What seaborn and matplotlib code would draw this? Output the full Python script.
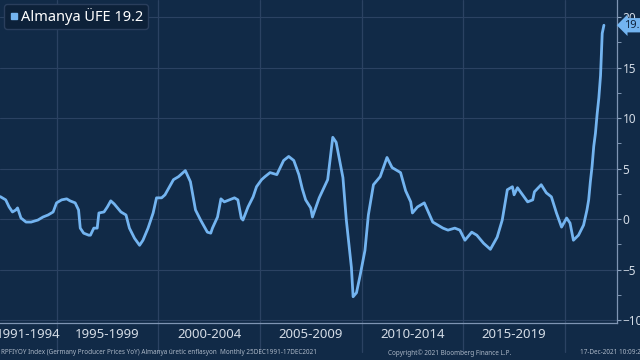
import pandas as pd
import matplotlib
matplotlib.use("Agg")
import matplotlib.pyplot as plt
import matplotlib.transforms as mtransforms
from matplotlib.lines import Line2D
import seaborn as sns

# Germany PPI YoY (%)
dates = ["1992-01", "1992-03", "1992-06", "1992-08", "1992-10", "1992-12", "1993-01",
         "1993-03", "1993-06", "1993-09", "1994-01", "1994-04", "1994-07", "1994-10",
         "1994-12", "1995-03", "1995-06", "1995-08", "1995-11", "1996-01", "1996-02",
         "1996-04", "1996-07", "1996-08", "1996-10", "1996-12", "1997-01", "1997-04",
         "1997-06", "1997-08", "1997-10", "1998-02", "1998-05", "1998-07", "1998-10",
         "1999-01", "1999-03", "1999-06", "1999-09", "1999-11", "2000-02", "2000-04",
         "2000-09", "2000-12", "2001-04", "2001-07", "2001-10", "2002-01", "2002-05",
         "2002-07", "2002-08", "2002-11", "2003-01", "2003-03", "2003-06", "2003-09",
         "2003-11", "2004-01", "2004-02", "2004-05", "2004-08", "2004-10", "2005-01",
         "2005-03", "2005-06", "2005-10", "2006-02", "2006-05", "2006-08", "2006-11",
         "2007-01", "2007-03", "2007-06", "2007-07", "2007-11", "2008-04", "2008-07",
         "2008-09", "2009-01", "2009-03", "2009-06", "2009-07", "2009-09", "2009-11",
         "2010-02", "2010-04", "2010-07", "2010-11", "2011-03", "2011-06", "2011-11",
         "2012-02", "2012-05", "2012-06", "2012-09", "2013-01", "2013-06", "2013-12",
         "2014-03", "2014-07", "2014-10", "2015-01", "2015-05", "2015-08", "2015-12",
         "2016-04", "2016-08", "2016-11", "2017-02", "2017-05", "2017-06", "2017-08",
         "2018-02", "2018-05", "2018-06", "2018-10", "2019-01", "2019-04", "2019-07",
         "2019-10", "2020-01", "2020-03", "2020-05", "2020-08", "2020-11", "2021-01",
         "2021-02", "2021-03", "2021-04", "2021-05", "2021-06", "2021-07", "2021-08",
         "2021-09", "2021-10", "2021-11"]
values = [2.3, 2.2, 1.9, 1.2, 0.7, 0.9, 1.1,
          0.1, -0.3, -0.3, -0.1, 0.2, 0.4, 0.7,
          1.6, 1.9, 2.0, 1.8, 1.6, 0.9, -0.9,
          -1.4, -1.6, -1.6, -0.9, -0.9, 0.6, 0.7,
          1.2, 1.8, 1.5, 0.7, 0.4, -0.9, -1.9,
          -2.6, -2.1, -0.9, 0.6, 2.1, 2.1, 2.4,
          3.9, 4.2, 4.8, 3.7, 0.9, -0.1, -1.3,
          -1.4, -0.9, 0.2, 2.0, 1.7, 1.9, 2.1,
          1.9, 0.1, -0.1, 1.2, 2.2, 3.2, 3.9,
          4.2, 4.6, 4.4, 5.8, 6.2, 5.8, 4.4,
          3.0, 1.9, 1.1, 0.2, 2.1, 3.9, 8.1,
          7.6, 4.1, -0.1, -4.8, -7.7, -7.3, -5.7,
          -3.1, 0.4, 3.4, 4.2, 6.1, 5.1, 4.6,
          2.8, 1.7, 0.6, 1.2, 1.6, -0.3, -0.9,
          -1.1, -0.9, -1.1, -2.1, -1.3, -1.6, -2.4,
          -3.0, -1.8, -0.1, 2.9, 3.2, 2.4, 3.1,
          1.7, 1.9, 2.7, 3.4, 2.6, 2.2, 0.6,
          -0.8, 0.1, -0.4, -2.1, -1.6, -0.6, 0.9,
          1.9, 3.7, 5.2, 7.2, 8.5, 10.4, 12.0,
          14.2, 18.4, 19.2]
period_labels = ["1991-1994", "1995-1999", "2000-2004", "2005-2009", "2010-2014", "2015-2019"]
period_starts = [1995, 2000, 2005, 2010, 2015, 2020]

bg = "#112a47"
grid_c = "#2b4262"
line_c = "#73b4f0"
txt_c = "#d4dce6"
foot_c = "#aab6c6"

df = pd.DataFrame({"date": pd.to_datetime(dates), "value": values})
df["t"] = df["date"].dt.year + df["date"].dt.month / 12

sns.set_style("dark", {"axes.facecolor": bg, "figure.facecolor": bg})
plt.rcParams["font.family"] = ["Noto Sans", "DejaVu Sans"]

fig = plt.figure(figsize=(6.4, 3.6), dpi=100)
ax = fig.add_axes([0, 1 - 323 / 360, 617 / 640, 323 / 360])
ax.set_facecolor(bg)

sns.lineplot(data=df, x="t", y="value", color=line_c, linewidth=2, ax=ax)

x0, x1 = 1992.22, 2022.56
ax.set_xlim(x0, x1)
ax.set_ylim(-10.3, 21.7)

# gridlines
for v in range(-10, 21, 5):
    ax.axhline(v, color=grid_c, linewidth=0.8, zorder=0)
xtrans = mtransforms.blended_transform_factory(ax.transData, ax.transAxes)
for s in period_starts:
    ax.plot([s, s], [-0.09, 1], color=grid_c, linewidth=0.9, transform=xtrans,
            clip_on=False, zorder=0)

# period labels under the axis
lefts = [x0] + period_starts[:-1]
for lab, a, b in zip(period_labels, lefts, period_starts):
    ax.text((a + b) / 2, -0.037, lab, transform=xtrans, ha="center", va="center",
            color=txt_c, fontsize=9.5)

# axes styling
ax.set_xlabel("")
ax.set_ylabel("")
ax.set_xticks(range(1993, 2023))
ax.tick_params(axis="x", direction="in", length=3, color="#7f95b3", labelbottom=False)
ax.yaxis.tick_right()
ax.set_yticks(range(-10, 21, 5))
ax.set_yticks([v + 2.5 for v in range(-10, 20, 5)], minor=True)
ax.tick_params(axis="y", which="both", direction="out", length=3, color="#8fa5c0",
               labelcolor=txt_c, labelsize=8.5, pad=1)
for side in ["left", "top"]:
    ax.spines[side].set_visible(False)
for side in ["right", "bottom"]:
    ax.spines[side].set_color("#7f95b3")
    ax.spines[side].set_linewidth(0.9)

# legend
handle = Line2D([], [], marker="s", linestyle="none", color=line_c, markersize=5)
ax.legend([handle], ["Almanya ÜFE 19.2"], loc="upper left", bbox_to_anchor=(0, 1),
          facecolor="#0d2139", edgecolor="#2a3e5c", labelcolor="white",
          fontsize=10.5, handletextpad=0.1, borderaxespad=0.25,
          borderpad=0.3, handlelength=0.8, fancybox=True, framealpha=1)

# last value tag
ytrans = mtransforms.blended_transform_factory(ax.transAxes, ax.transData)
ax.text(1.012, values[-1], f"{values[-1]}", transform=ytrans,
        ha="left", va="center", color="#0d2139", fontsize=8, clip_on=False,
        bbox=dict(boxstyle="larrow,pad=0.15", fc=line_c, ec="none"))

# footer
fig.text(0.002, 0.02, "RPFIYOY Index (Germany Producer Prices YoY) Almanya üretic enflasyon  Monthly 25DEC1991-17DEC2021",
         color=foot_c, fontsize=4.6, ha="left", va="center")
fig.text(388 / 640, 0.02, "Copyright\u00a9 2021 Bloomberg Finance L.P.",
         color=foot_c, fontsize=4.6, ha="left", va="center")
fig.text(580 / 640, 0.02, "17-Dec-2021 10:09:24",
         color=foot_c, fontsize=4.6, ha="left", va="center")

fig.savefig("out.png", dpi=100, facecolor=bg)
